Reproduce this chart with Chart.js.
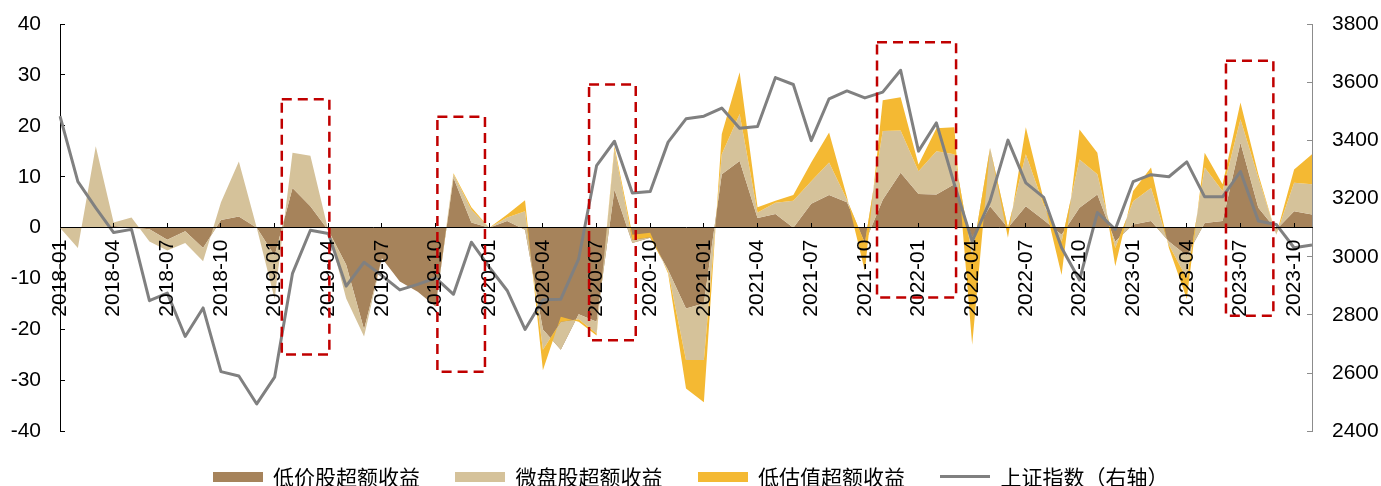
<!DOCTYPE html>
<html>
<head>
<meta charset="utf-8">
<script src="https://cdn.jsdelivr.net/npm/chart.js@4.4.0/dist/chart.umd.min.js"></script>
<style>
  html, body { margin: 0; padding: 0; background: #fff; }
  #wrap { width: 1381px; height: 486px; position: relative; }
</style>
</head>
<body>
<div id="wrap"><canvas id="chart"></canvas></div>
<script>
// monthly points, 2018-01 .. 2023-11
const months = [
  '2018-01','2018-02','2018-03','2018-04','2018-05','2018-06','2018-07','2018-08','2018-09','2018-10','2018-11','2018-12',
  '2019-01','2019-02','2019-03','2019-04','2019-05','2019-06','2019-07','2019-08','2019-09','2019-10','2019-11','2019-12',
  '2020-01','2020-02','2020-03','2020-04','2020-05','2020-06','2020-07','2020-08','2020-09','2020-10','2020-11','2020-12',
  '2021-01','2021-02','2021-03','2021-04','2021-05','2021-06','2021-07','2021-08','2021-09','2021-10','2021-11','2021-12',
  '2022-01','2022-02','2022-03','2022-04','2022-05','2022-06','2022-07','2022-08','2022-09','2022-10','2022-11','2022-12',
  '2023-01','2023-02','2023-03','2023-04','2023-05','2023-06','2023-07','2023-08','2023-09','2023-10','2023-11'
];

// excess returns (%), stacked in this order
const lowPrice = [
  0, 0, 0, 0.3, 0, -0.3, -2.4, -0.7, -4, 1.5, 2.2, 0,
  -5.5, 7.8, 4.2, -0.5, -7.3, -20, -6, -10.6, -12.6, -15.5, 9.8, 1,
  0, 1.3, -0.4, -20, -24, -17, -18.5, 7.5, -3, -2, -8.3, -15.9,
  -14.9, 10.5, 13.1, 1.9, 2.7, 0, 4.7, 6.4, 5, -3, 5.5, 10.8,
  6.6, 6.5, 8.5, -2, 4.2, 0, 4.2, 1.5, -1.4, 3.9, 6.5, -2.7,
  0.6, 1.3, -2.7, -5.5, 0.9, 1.3, 16.7, 3.9, -0.4, 3.2, 2.6
];
const microCap = [
  0, -4, 16, 0.7, 2, -2.4, -2.1, -2.3, -2.6, 3.5, 10.8, 0,
  -8.5, 6.9, 9.9, 0, -6.6, -1.4, 0, 0, 0, 0, 0.7, 2.5,
  0, 0.7, 3.6, -4, 5.5, -1, -2.3, 7.9, 0.6, 0.1, -0.3, -10.1,
  -11.1, 3.9, 9.2, 1.1, 2.2, 5.3, 4.4, 6.4, 0.5, 0, 13.5, 8.3,
  4.5, 8.5, 5.9, -3.5, 11.5, 0, 10.2, 3, -1.3, 9.5, 4, -1.3,
  4.6, 6.5, -0.7, -4.5, 10.9, 5.9, 4.6, 5.9, -1, 5.6, 5.9
];
const lowValuation = [
  0, 0, 0, 0, 0, 0, 0, 0, 0, 0, 0, 0,
  0, 0, 0, 0, 0, 0, 0, 0, 0, 0, 0.2, 0.5,
  0, 0.6, 2.2, -4, 1, -0.5, -0.4, 0.6, 1, 0.9, -0.4, -5.6,
  -8.3, 4, 8.2, 1, 0.4, 1.1, 3.7, 5.9, 0.5, -5.5, 6, 6.5,
  1.3, 4.5, 5.3, -17.5, 0, -2, 5.3, 1, -6.6, 5.9, 4.2, -3.6,
  2, 4, -0.6, -4, 2.9, 1.3, 3.3, 0.7, 0, 2.6, 5.9
];
// Shanghai Composite month-end close (right axis)
const sseIndex = [
  3483, 3258, 3168, 3083, 3094, 2849, 2875, 2726, 2824, 2605, 2590, 2494,
  2586, 2943, 3091, 3080, 2899, 2981, 2935, 2886, 2905, 2927, 2871, 3050,
  2964, 2884, 2750, 2852, 2854, 2993, 3313, 3397, 3219, 3224, 3394, 3474,
  3483, 3511, 3442, 3448, 3616, 3592, 3399, 3543, 3570, 3546, 3566, 3641,
  3363, 3460, 3250, 3053, 3192, 3401, 3254, 3204, 3031, 2920, 3152, 3094,
  3258, 3282, 3275, 3326, 3206, 3206, 3293, 3123, 3111, 3031, 3040
];

const leftAxis = { min: -40, max: 40, step: 10 };
const rightAxis = { min: 2400, max: 3800, step: 200 };
const labelEvery = 3;

// dashed highlight frames: category index span and left-axis value span
const highlightSpans = [
  { from: 12.4, to: 15.06, top: 25.2, bottom: -24.9 },
  { from: 21.1, to: 23.76, top: 21.8, bottom: -28.3 },
  { from: 29.58, to: 32.19, top: 28.1, bottom: -22.1 },
  { from: 45.68, to: 50.1, top: 36.4, bottom: -13.7 },
  { from: 65.19, to: 67.84, top: 32.8, bottom: -17.3 }
];

const COLORS = {
  lowPrice: '#A6835B',
  microCap: '#D5C29A',
  lowValuation: '#F4B933',
  index: '#808080',
  frame: '#C00000'
};

const numFont = { family: "'Liberation Sans', Arial, sans-serif", size: 21 };
const cjkFont = { family: "'Noto Sans CJK SC', sans-serif", size: 21 };

// running totals = upper edge of each stacked layer; the layers are
// painted bottom-up so a later layer covers an earlier one where they cross
const layerEdges = [lowPrice, microCap, lowValuation].reduce((acc, series, k) => {
  acc.push(series.map((v, i) => +(v + (k ? acc[k - 1][i] : 0)).toFixed(2)));
  return acc;
}, []);

// legend swatches drawn as small canvases
function swatch(color, w, h) {
  const c = document.createElement('canvas');
  c.width = w;
  c.height = h;
  const g = c.getContext('2d');
  g.fillStyle = color;
  g.fillRect(0, 0, w, h);
  return c;
}

function areaSet(label, data, color, fill, order) {
  return {
    label: label,
    data: data,
    yAxisID: 'y',
    backgroundColor: color,
    borderColor: 'rgba(0,0,0,0)',
    borderWidth: 0,
    pointRadius: 0,
    pointHoverRadius: 0,
    pointStyle: swatch(color, 50, 10),
    fill: fill,
    tension: 0,
    order: order
  };
}

// fixed axis width, and no extra room reserved for the end labels
const fixWidth = w => s => {
  s.width = w;
  s.paddingTop = 0;
  s.paddingBottom = 0;
};

const framePlugin = {
  id: 'frames',
  afterDraw(chart) {
    const { ctx, scales } = chart;
    ctx.save();
    ctx.strokeStyle = COLORS.frame;
    ctx.lineWidth = 2.5;
    ctx.setLineDash([10, 6]);
    highlightSpans.forEach(s => {
      const x1 = scales.x.getPixelForValue(s.from);
      const x2 = scales.x.getPixelForValue(s.to);
      const y1 = scales.y.getPixelForValue(s.top);
      const y2 = scales.y.getPixelForValue(s.bottom);
      ctx.strokeRect(x1, y1, x2 - x1, y2 - y1);
    });
    ctx.restore();
  }
};

new Chart(document.getElementById('chart'), {
  type: 'line',
  data: {
    labels: months,
    datasets: [
      areaSet('低价股超额收益', layerEdges[0], COLORS.lowPrice, 'origin', 3),
      areaSet('微盘股超额收益', layerEdges[1], COLORS.microCap, '-1', 2),
      areaSet('低估值超额收益', layerEdges[2], COLORS.lowValuation, '-1', 1),
      {
        label: '上证指数（右轴）',
        data: sseIndex,
        yAxisID: 'y2',
        borderColor: COLORS.index,
        borderWidth: 3,
        borderJoinStyle: 'round',
        pointRadius: 0,
        pointHoverRadius: 0,
        pointStyle: swatch(COLORS.index, 50, 3),
        fill: false,
        tension: 0,
        order: 0
      }
    ]
  },
  options: {
    responsive: true,
    maintainAspectRatio: false,
    animation: false,
    layout: { padding: { top: 24, bottom: -11.3, left: 0, right: 0 } },
    plugins: {
      tooltip: { enabled: false },
      legend: {
        position: 'bottom',
        labels: {
          usePointStyle: true,
          pointStyleWidth: 50,
          padding: 35,
          color: '#000',
          font: cjkFont,
          sort: (a, b) => a.datasetIndex - b.datasetIndex
        }
      }
    },
    scales: {
      x: {
        type: 'category',
        position: { y: 0 },
        offset: false,
        border: { display: true, color: '#000', width: 1, z: 1 },
        grid: {
          z: 1,
          drawOnChartArea: false,
          tickLength: -5,
          tickColor: c => (c.index % labelEvery === 0 ? '#000' : 'rgba(0,0,0,0)')
        },
        ticks: {
          z: 1,
          autoSkip: false,
          minRotation: 90,
          maxRotation: 90,
          padding: 17,
          color: '#000',
          font: numFont,
          callback: (v, i) => (i % labelEvery === 0 ? months[i] : '')
        }
      },
      y: {
        position: 'left',
        min: leftAxis.min,
        max: leftAxis.max,
        border: { display: true, color: '#000', width: 1 },
        grid: { drawOnChartArea: false, tickLength: -5, tickColor: '#000' },
        ticks: { stepSize: leftAxis.step, padding: 24, color: '#000', font: numFont },
        afterFit: fixWidth(60)
      },
      y2: {
        position: 'right',
        min: rightAxis.min,
        max: rightAxis.max,
        border: { display: true, color: '#8c8c8c', width: 1 },
        grid: { drawOnChartArea: false, tickLength: -5, tickColor: '#8c8c8c' },
        ticks: {
          stepSize: rightAxis.step,
          padding: 25,
          color: '#000',
          font: numFont,
          callback: v => String(v)
        },
        afterFit: fixWidth(69)
      }
    }
  },
  plugins: [framePlugin]
});
</script>
</body>
</html>
